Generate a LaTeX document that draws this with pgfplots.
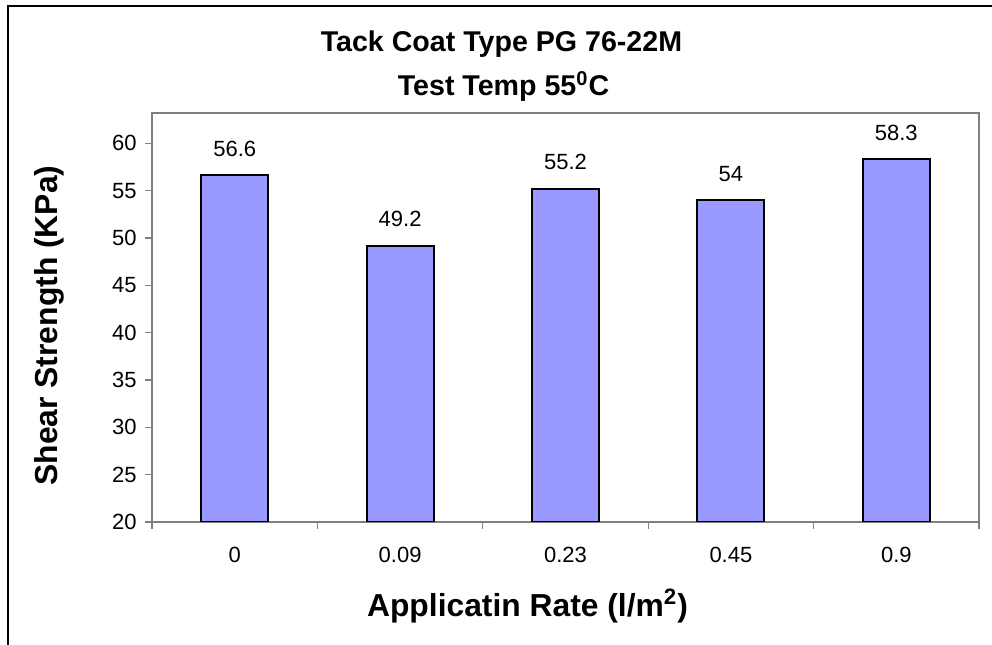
\documentclass[border=0pt]{standalone}
\usepackage{pgfplots}
\pgfplotsset{compat=1.18}
\usepackage{fontspec}
\setmainfont{Liberation Sans}
\definecolor{barblue}{RGB}{153,153,255}
\definecolor{axgray}{RGB}{128,128,128}
\begin{document}
\begin{tikzpicture}[x=0.5bp,y=0.5bp]
  % picture in image pixels: 992 x 645
  \path[use as bounding box] (0,0) rectangle (992,645);
  \draw[black,line width=1bp] (8,0) -- (8,639) -- (992,639);

  \begin{axis}[
    at={(76bp,61.5bp)}, anchor=south west,
    scale only axis, width=413.5bp, height=204.5bp,
    xmin=-0.5, xmax=4.5, ymin=20, ymax=63.2,
    ytick={20,25,...,60},
    xtick={0,1,2,3,4},
    xticklabels={0,0.09,0.23,0.45,0.9},
    minor xtick={-0.5,0.5,...,4.5},
    major x tick style={draw=none},
    xtick pos=bottom, ytick pos=left,
    tick align=outside,
    major tick length=3.5bp, minor tick length=3.5bp,
    tick style={axgray, line width=0.6bp},
    axis line style={axgray, line width=0.8bp},
    /pgf/number format/assume math mode=true,
    ticklabel style={font=\fontsize{11bp}{13bp}\selectfont},
    xticklabel style={inner sep=0pt, yshift=-9bp},
    yticklabel style={inner sep=0pt, xshift=-4bp},
    ybar, bar width=33.5bp,
    nodes near coords,
    every node near coord/.append style={font=\fontsize{11bp}{13bp}\selectfont, anchor=base, yshift=9.5bp, inner sep=0pt},
  ]
    \addplot[fill=barblue, draw=black, line width=1bp] coordinates {
      (0,56.6) (1,49.2) (2,55.2) (3,54) (4,58.3)
    };
  \end{axis}

  \node[anchor=base, font=\fontsize{14.3bp}{16bp}\selectfont\bfseries] at (501.5,593) {Tack Coat Type PG 76-22M};
  \node[anchor=base, font=\fontsize{14.3bp}{16bp}\selectfont\bfseries] at (503.5,549) {Test Temp 55\textsuperscript{0}C};
  \node[anchor=base, font=\fontsize{15.9bp}{18bp}\selectfont\bfseries] at (527.5,28) {Applicatin Rate (l/m\textsuperscript{2})};
  \node[anchor=base, rotate=90, font=\fontsize{15.9bp}{18bp}\selectfont\bfseries] at (58,319.5) {Shear Strength (KPa)};
\end{tikzpicture}
\end{document}
